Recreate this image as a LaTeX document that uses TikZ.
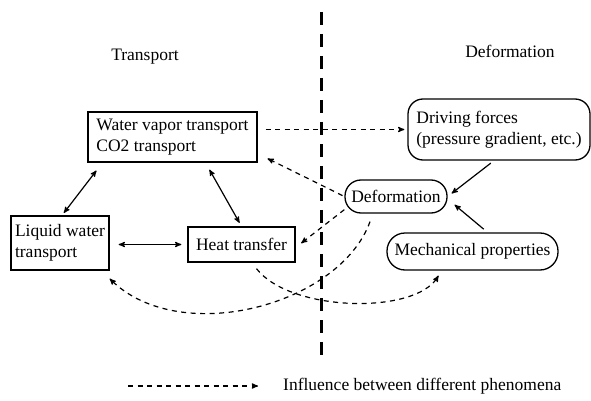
\documentclass[tikz,border=0pt]{standalone}
\usepackage{fontspec}
\setmainfont{Liberation Serif}
\usetikzlibrary{arrows}

\begin{document}
\begin{tikzpicture}[x=1pt,y=-1pt,>=stealth',
  font=\fontsize{17.5}{21}\selectfont,
  box/.style={draw,line width=1.3pt,rectangle,align=left,inner sep=0pt},
  pill/.style={draw,line width=1.3pt,rounded corners=#1,align=left,inner sep=0pt},
  infl/.style={->,dash pattern=on 5pt off 4.5pt,line width=1.2pt},
  link/.style={<->,line width=1.2pt}]
\useasboundingbox (0,0) rectangle (591,401);

% headings and divider
\path (145,57) node(tr){Transport} (510,51) node(de){Deformation};
\coordinate (top) at (321,12);
\coordinate (bot) at (321,358);
\draw[line width=3pt,dash pattern=on 13pt off 9pt] (top) -- (bot);

% transport side
\path (172.5,137) node[box,minimum width=169pt,minimum height=50pt](vapor){Water vapor transport\\CO2 transport}
      (60,243) node[box,minimum width=98pt,minimum height=54pt](liquid){Liquid water\\transport}
      (241.5,244.5) node[box,minimum width=107pt,minimum height=35pt](heat){Heat transfer};

% deformation side
\path (499,129.5) node[pill=15pt,minimum width=182pt,minimum height=61pt](driving){Driving forces\\(pressure gradient, etc.)}
      (396,196.5) node[pill=16pt,minimum width=102pt,minimum height=33pt](deform){Deformation}
      (472.5,251.5) node[pill=18pt,minimum width=171pt,minimum height=37pt](mech){Mechanical properties};

\draw[link,shorten <=3pt,shorten >=10pt] ([xshift=2pt]liquid.north) -- ([xshift=-70pt]vapor.south);
\draw[link,shorten <=8pt,shorten >=4pt] ([xshift=33pt]vapor.south) -- (heat.north);
\draw[link,shorten <=9pt,shorten >=6pt] (liquid.east |- heat.west) -- (heat.west);

\draw[->,line width=1.2pt,shorten <=4pt,shorten >=5pt] ([xshift=-5pt]driving.south) -- (deform.east);
\draw[->,line width=1.2pt,shorten <=5pt,shorten >=9pt] ([xshift=15pt]mech.north) -- ([yshift=-2.5pt]deform.east);

\draw[infl,shorten <=8pt,shorten >=3pt] (vapor.east |- driving.west) -- (driving.west);
\draw[infl,shorten <=2pt,shorten >=11pt] (deform.west) -- ([yshift=9pt]vapor.south east);
\draw[infl,shorten >=7pt] ([yshift=4pt]deform.south west) -- ([yshift=-3pt]heat.east);
\draw[infl] ([shift={(-26pt,-8pt)}]deform.south) .. controls (340,305) and (180,348) .. ([yshift=-8pt]liquid.south east);
\draw[infl] ([shift={(15pt,-6pt)}]heat.south) .. controls (290,312) and (415,315) .. ([shift={(-34pt,-5pt)}]mech.south);

% legend
\coordinate (ls) at (128,386);
\path (283,386) node[anchor=west,inner sep=0pt](leg){Influence between different phenomena};
\draw[infl] (ls) -- ([xshift=-25pt]leg.west);
\end{tikzpicture}
\end{document}
